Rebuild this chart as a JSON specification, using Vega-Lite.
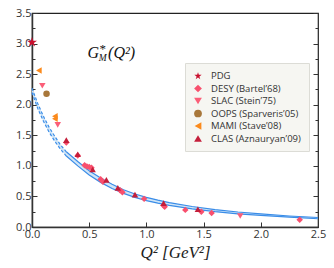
{
  "$schema": "https://vega.github.io/schema/vega-lite/v6.json",
  "autosize": "none",
  "width": 286,
  "height": 214,
  "padding": {"left": 32, "top": 13, "right": 16, "bottom": 41},
  "background": "white",
  "config": {
    "view": {"stroke": "#222", "strokeWidth": 1.2},
    "axis": {
      "labelFont": "Open Sans", "labelFontSize": 11, "labelColor": "#333",
      "domainColor": "#333", "domainWidth": 1.5, "tickColor": "#333", "grid": false,
      "labelFlush": false, "labelOverlap": false
    },
    "axisX": {
      "titleFont": "Liberation Serif", "titleFontStyle": "italic", "titleFontWeight": "normal", "titleFontSize": 17, "titleColor": "#222", "titlePadding": 5
    }
  },
  "datasets": {
    "band": [
      {"q": 0.0, "up": 2.27, "lo": 2.2},
      {"q": 0.05, "up": 2.02, "lo": 1.94},
      {"q": 0.1, "up": 1.81, "lo": 1.73},
      {"q": 0.15, "up": 1.63, "lo": 1.55},
      {"q": 0.2, "up": 1.48, "lo": 1.4},
      {"q": 0.25, "up": 1.34, "lo": 1.27},
      {"q": 0.3, "up": 1.23, "lo": 1.16},
      {"q": 0.4, "up": 1.07, "lo": 1.0},
      {"q": 0.5, "up": 0.92, "lo": 0.85},
      {"q": 0.6, "up": 0.8, "lo": 0.73},
      {"q": 0.7, "up": 0.7, "lo": 0.63},
      {"q": 0.8, "up": 0.61, "lo": 0.55},
      {"q": 0.9, "up": 0.54, "lo": 0.485},
      {"q": 1.0, "up": 0.485, "lo": 0.43},
      {"q": 1.1, "up": 0.44, "lo": 0.39},
      {"q": 1.2, "up": 0.4, "lo": 0.355},
      {"q": 1.4, "up": 0.335, "lo": 0.295},
      {"q": 1.6, "up": 0.285, "lo": 0.25},
      {"q": 1.8, "up": 0.245, "lo": 0.215},
      {"q": 2.0, "up": 0.215, "lo": 0.19},
      {"q": 2.25, "up": 0.18, "lo": 0.16},
      {"q": 2.5, "up": 0.155, "lo": 0.135}
    ],
    "pts": [
      {"q": 0.0, "g": 3.02, "exp": "PDG"},
      {"q": 0.3, "g": 1.38, "exp": "DESY (Bartel’68)"},
      {"q": 0.4, "g": 1.17, "exp": "DESY (Bartel’68)"},
      {"q": 0.46, "g": 1.01, "exp": "DESY (Bartel’68)"},
      {"q": 0.48, "g": 0.99, "exp": "DESY (Bartel’68)"},
      {"q": 0.5, "g": 0.98, "exp": "DESY (Bartel’68)"},
      {"q": 0.52, "g": 0.97, "exp": "DESY (Bartel’68)"},
      {"q": 0.6, "g": 0.78, "exp": "DESY (Bartel’68)"},
      {"q": 0.62, "g": 0.74, "exp": "DESY (Bartel’68)"},
      {"q": 0.77, "g": 0.6, "exp": "DESY (Bartel’68)"},
      {"q": 0.79, "g": 0.57, "exp": "DESY (Bartel’68)"},
      {"q": 0.98, "g": 0.46, "exp": "DESY (Bartel’68)"},
      {"q": 1.15, "g": 0.35, "exp": "DESY (Bartel’68)"},
      {"q": 1.16, "g": 0.33, "exp": "DESY (Bartel’68)"},
      {"q": 1.34, "g": 0.28, "exp": "DESY (Bartel’68)"},
      {"q": 1.48, "g": 0.25, "exp": "DESY (Bartel’68)"},
      {"q": 1.57, "g": 0.23, "exp": "DESY (Bartel’68)"},
      {"q": 2.34, "g": 0.12, "exp": "DESY (Bartel’68)"},
      {"q": 0.09, "g": 2.31, "exp": "SLAC (Stein’75)"},
      {"q": 0.225, "g": 1.67, "exp": "SLAC (Stein’75)"},
      {"q": 1.82, "g": 0.18, "exp": "SLAC (Stein’75)"},
      {"q": 0.127, "g": 2.18, "exp": "OOPS (Sparveris’05)"},
      {"q": 0.06, "g": 2.56, "exp": "MAMI (Stave’08)"},
      {"q": 0.2, "g": 1.81, "exp": "MAMI (Stave’08)"},
      {"q": 0.2, "g": 1.77, "exp": "MAMI (Stave’08)"},
      {"q": 0.3, "g": 1.42, "exp": "CLAS (Aznauryan’09)"},
      {"q": 0.4, "g": 1.19, "exp": "CLAS (Aznauryan’09)"},
      {"q": 0.53, "g": 0.94, "exp": "CLAS (Aznauryan’09)"},
      {"q": 0.65, "g": 0.77, "exp": "CLAS (Aznauryan’09)"},
      {"q": 0.75, "g": 0.64, "exp": "CLAS (Aznauryan’09)"},
      {"q": 0.9, "g": 0.53, "exp": "CLAS (Aznauryan’09)"},
      {"q": 1.15, "g": 0.39, "exp": "CLAS (Aznauryan’09)"},
      {"q": 1.45, "g": 0.29, "exp": "CLAS (Aznauryan’09)"}
    ]
  },
  "resolve": {"axis": {"y": "independent"}},
  "layer": [
    {
      "data": {"name": "band"},
      "mark": {"type": "area", "color": "#cfe5f7"},
      "encoding": {
        "x": {"field": "q", "type": "quantitative", "title": "Q² [GeV²]", "scale": {"domain": [0, 2.5], "nice": false},
          "axis": {"labelOverlap": false, "labelFlush": false, "labelBound": false,
            "values": [0,0.25,0.5,0.75,1,1.25,1.5,1.75,2,2.25,2.5],
            "labelExpr": "(datum.value*2) % 1 == 0 ? format(datum.value, '.1f') : ''",
            "labelPadding": 6,
            "tickSize": {"condition": {"test": "(datum.value*2) % 1 == 0", "value": -5}, "value": -3}}},
        "y": {"field": "up", "type": "quantitative", "scale": {"domain": [0, 3.5], "nice": false},
          "axis": {"orient": "right", "labels": false, "domain": false, "title": null,
            "values": [0,0.25,0.5,0.75,1,1.25,1.5,1.75,2,2.25,2.5,2.75,3,3.25,3.5],
            "tickSize": {"condition": {"test": "datum.value*2 % 1 == 0", "value": -5}, "value": -3}}},
        "y2": {"field": "lo"}
      }
    },
    {
      "data": {"name": "band"},
      "transform": [{"filter": "datum.q >= 0.3"}],
      "mark": {"type": "line", "color": "#3b8de8", "strokeWidth": 1.2},
      "encoding": {"x": {"field": "q", "type": "quantitative", "title": "Q² [GeV²]"}, "y": {"field": "up", "type": "quantitative", "axis": null}}
    },
    {
      "data": {"name": "band"},
      "transform": [{"filter": "datum.q >= 0.3"}],
      "mark": {"type": "line", "color": "#3b8de8", "strokeWidth": 1.2},
      "encoding": {"x": {"field": "q", "type": "quantitative", "title": "Q² [GeV²]"}, "y": {"field": "lo", "type": "quantitative", "axis": null}}
    },
    {
      "data": {"name": "band"},
      "transform": [{"filter": "datum.q <= 0.3"}],
      "mark": {"type": "line", "color": "#3b8de8", "strokeWidth": 1.2, "strokeDash": [3, 2]},
      "encoding": {"x": {"field": "q", "type": "quantitative", "title": "Q² [GeV²]"}, "y": {"field": "up", "type": "quantitative", "axis": null}}
    },
    {
      "data": {"name": "band"},
      "transform": [{"filter": "datum.q <= 0.3"}],
      "mark": {"type": "line", "color": "#3b8de8", "strokeWidth": 1.2, "strokeDash": [3, 2]},
      "encoding": {"x": {"field": "q", "type": "quantitative", "title": "Q² [GeV²]"}, "y": {"field": "lo", "type": "quantitative", "axis": null}}
    },
    {
      "data": {"name": "pts"},
      "mark": {"type": "point", "filled": true, "opacity": 1, "size": 42},
      "encoding": {
        "x": {"field": "q", "type": "quantitative", "title": "Q² [GeV²]"},
        "y": {"field": "g", "type": "quantitative",
          "axis": {"title": null,
            "values": [0,0.25,0.5,0.75,1,1.25,1.5,1.75,2,2.25,2.5,2.75,3,3.25,3.5],
            "labelExpr": "datum.value*2 % 1 == 0 ? format(datum.value, '.1f') : ''",
            "labelPadding": 6,
            "tickSize": {"condition": {"test": "datum.value*2 % 1 == 0", "value": -5}, "value": -3}}},
        "size": {"condition": {"test": "datum.exp == 'PDG'", "value": 110}, "value": 42},
        "shape": {"field": "exp", "type": "nominal",
          "scale": {
            "domain": ["PDG", "DESY (Bartel’68)", "SLAC (Stein’75)", "OOPS (Sparveris’05)", "MAMI (Stave’08)", "CLAS (Aznauryan’09)"],
            "range": ["M0,-1L0.2245,-0.309L0.951,-0.309L0.363,0.118L0.588,0.809L0,0.382L-0.588,0.809L-0.363,0.118L-0.951,-0.309L-0.2245,-0.309Z", "diamond", "triangle-down", "circle", "triangle-left", "triangle-up"]}},
        "color": {"field": "exp", "type": "nominal",
          "scale": {
            "domain": ["PDG", "DESY (Bartel’68)", "SLAC (Stein’75)", "OOPS (Sparveris’05)", "MAMI (Stave’08)", "CLAS (Aznauryan’09)"],
            "range": ["#c8102e", "#f8506e", "#fb5e78", "#a8773a", "#fb8a1c", "#c41e3a"]},
          "legend": {"title": null, "orient": "none", "legendX": 153, "legendY": 50,
            "labelFont": "Open Sans", "labelFontSize": 9.5, "labelColor": "#333",
            "symbolSize": 60, "rowPadding": 2.5, "padding": 8,
            "fillColor": "#f6f6f2", "strokeColor": "#dcdcd6", "labelOffset": 8}}
      }
    },
    {
      "data": {"values": [{"q": 0.485, "g": 2.84, "t": "G"}]},
      "mark": {"type": "text", "align": "left", "baseline": "middle", "font": "Liberation Serif", "fontStyle": "italic", "fontSize": 16, "color": "#111"},
      "encoding": {"x": {"field": "q", "type": "quantitative", "title": "Q² [GeV²]"}, "y": {"field": "g", "type": "quantitative", "axis": null}, "text": {"field": "t"}}
    },
    {
      "data": {"values": [{"q": 0.59, "g": 2.91, "t": "*"}]},
      "mark": {"type": "text", "align": "left", "baseline": "middle", "font": "Liberation Serif", "fontSize": 13, "color": "#111"},
      "encoding": {"x": {"field": "q", "type": "quantitative", "title": "Q² [GeV²]"}, "y": {"field": "g", "type": "quantitative", "axis": null}, "text": {"field": "t"}}
    },
    {
      "data": {"values": [{"q": 0.583, "g": 2.77, "t": "M"}]},
      "mark": {"type": "text", "align": "left", "baseline": "middle", "font": "Liberation Serif", "fontStyle": "italic", "fontSize": 9.5, "color": "#111"},
      "encoding": {"x": {"field": "q", "type": "quantitative", "title": "Q² [GeV²]"}, "y": {"field": "g", "type": "quantitative", "axis": null}, "text": {"field": "t"}}
    },
    {
      "data": {"values": [{"q": 0.665, "g": 2.84, "t": "(Q²)"}]},
      "mark": {"type": "text", "align": "left", "baseline": "middle", "font": "Liberation Serif", "fontStyle": "italic", "fontSize": 16, "color": "#111"},
      "encoding": {"x": {"field": "q", "type": "quantitative", "title": "Q² [GeV²]"}, "y": {"field": "g", "type": "quantitative", "axis": null}, "text": {"field": "t"}}
    }
  ]
}
